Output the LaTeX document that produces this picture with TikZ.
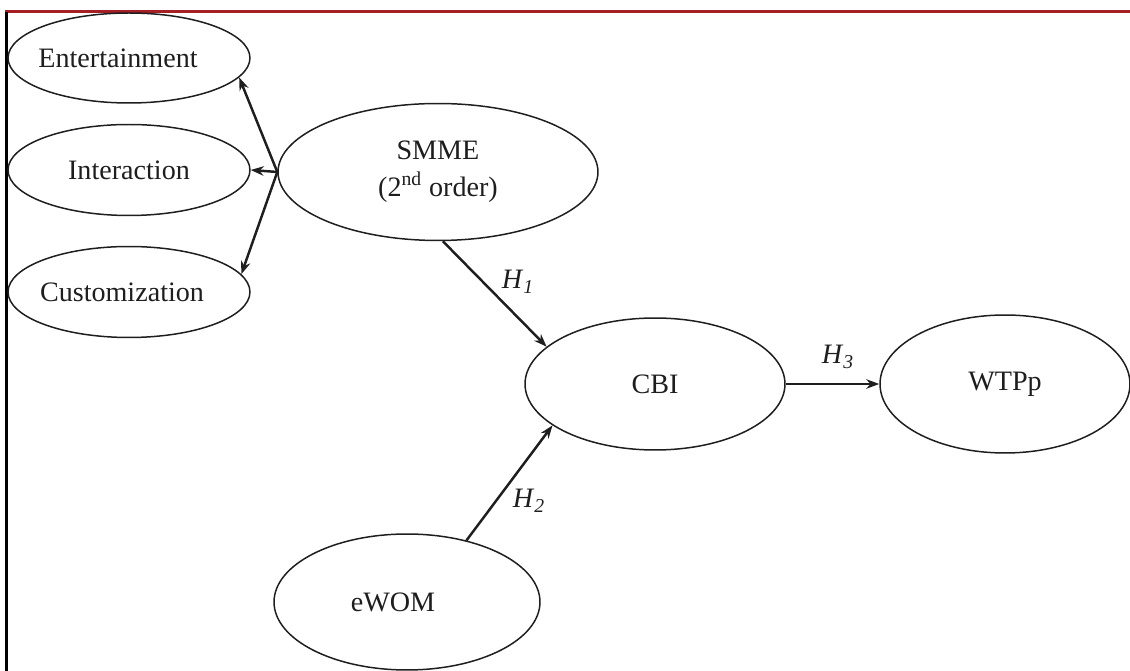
\documentclass[tikz,border=0pt]{standalone}
\usepackage{fontspec}
\setmainfont{Liberation Serif}
\usetikzlibrary{shapes.geometric,arrows.meta}
\definecolor{rule}{RGB}{165,32,38}
\definecolor{ink}{RGB}{30,30,30}
% text set slightly left of the shape's centre
\newcommand{\leftish}[2]{\makebox[0pt][c]{#2\hspace*{#1}}}
\begin{document}
\begin{tikzpicture}[x=0.02cm,y=-0.02cm,
  lv/.style={ellipse, draw=ink, line width=0.85pt, inner sep=0pt, align=center,
    text=ink, font=\fontsize{16}{21}\selectfont},
  path/.style={draw=ink, line width=1.4pt, -{Stealth[length=0.26cm,width=0.19cm]}},
  hyp/.style={text=ink, font=\fontsize{16}{19}\selectfont, inner sep=0pt}]
\useasboundingbox (0,0) rectangle (1130,671);
% frame rules
\draw[rule, line width=1.7pt] (5,12) -- (1135,12);
\draw[black, line width=1.6pt] (6.5,12) -- (6.5,675);
% constructs
\node[lv, minimum width=4.84cm, minimum height=1.80cm] (ent) at (129,58) {\leftish{0.44cm}{Entertainment}};
\node[lv, minimum width=4.84cm, minimum height=1.82cm] (int) at (129,170) {Interaction};
\node[lv, minimum width=4.84cm, minimum height=1.82cm] (cus) at (129,292) {\leftish{0.28cm}{Customization}};
\node[lv, minimum width=6.40cm, minimum height=2.74cm] (smme) at (438,172) {SMME\\(2\textsuperscript{nd} order)};
\node[lv, minimum width=5.20cm, minimum height=2.64cm] (cbi) at (655,384) {CBI};
\node[lv, minimum width=5.00cm, minimum height=2.76cm] (wtp) at (1005,384) {WTPp};
\node[lv, minimum width=5.32cm, minimum height=2.72cm] (ewom) at (407,602) {\leftish{0.56cm}{eWOM}};
% second-order reflective paths
\draw[path] (smme.west) -- (ent.-10);
\draw[path] (smme.west) -- (int.east);
\draw[path] (smme.west) -- (cus.9);
% hypotheses
\draw[path] (smme.-86) -- (cbi.161);
\draw[path] (ewom.46) -- (cbi.202);
\draw[path] (cbi.east) -- (wtp.west);
\node[hyp] (h1) at (518,282) {\textit{H}\textsubscript{\textit{1}}};
\node[hyp] (h2) at (529,501) {\textit{H}\textsubscript{\textit{2}}};
\node[hyp] (h3) at (838,357) {\textit{H}\textsubscript{\textit{3}}};
\end{tikzpicture}
\end{document}
